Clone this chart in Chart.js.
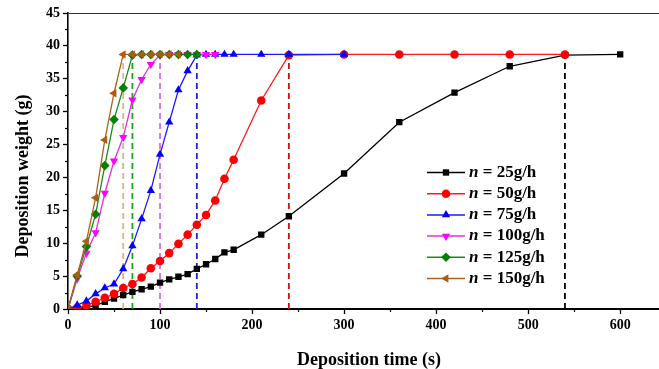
<!DOCTYPE html>
<html><head><meta charset="utf-8">
<script src="https://cdn.jsdelivr.net/npm/chart.js@4"></script>
<style>html,body{margin:0;padding:0;background:#fff}#wrap{width:659px;height:369px;position:relative}</style>
</head><body><div id="wrap"><canvas id="c"></canvas></div>
<script>
// ---- data ----
const seriesRates = ['25g/h', '50g/h', '75g/h', '100g/h', '125g/h', '150g/h'];

const time25   = [0,10,20,30,40,50,60,70,80,90,100,110,120,130,140,150,160,170,180,210,240,300,360,420,480,540,600];
const weight25 = [0,0.1,0.3,0.5,1.1,1.6,2.1,2.6,3.0,3.4,4.0,4.5,4.9,5.3,6.1,6.8,7.6,8.6,9.0,11.3,14.1,20.6,28.4,32.9,36.9,38.6,38.7];

const time50   = [0,10,20,30,40,50,60,70,80,90,100,110,120,130,140,150,160,170,180,210,240,300,360,420,480,540];
const weight50 = [0,0.2,0.5,1.1,1.7,2.3,3.2,3.8,4.8,6.2,7.3,8.5,9.9,11.3,12.8,14.3,16.5,19.8,22.7,31.7,38.6,38.7,38.7,38.7,38.7,38.7];

const time75   = [0,10,20,30,40,50,60,70,80,90,100,110,120,130,140,150,160,170,180,210,240,300];
const weight75 = [0,0.6,1.2,2.3,3.2,3.8,6.1,9.6,13.7,18.0,23.5,28.4,33.3,36.2,38.6,38.7,38.7,38.7,38.7,38.7,38.7,38.7];

const time100   = [0,10,20,30,40,50,60,70,80,90,100,110,120,130,140,150,160];
const weight100 = [0,4.6,8.5,11.6,17.6,22.5,26.1,31.8,34.9,37.2,38.6,38.7,38.7,38.7,38.7,38.7,38.7];

const time125   = [0,10,20,30,40,50,60,70,80,90,100,110,120,130,140];
const weight125 = [0,5.0,9.5,14.4,21.8,28.8,33.6,38.6,38.7,38.7,38.7,38.7,38.7,38.7,38.7];

const time150   = [0,10,20,30,40,50,60,70,80,90,100,110,120];
const weight150 = [0,5.2,10.3,16.9,25.7,32.8,38.7,38.7,38.7,38.7,38.7,38.7,38.7];

// time at which each series reaches its plateau (dashed markers)
const plateauTimes = [540, 240, 140, 100, 70, 60];

const xTicks = [0,100,200,300,400,500,600];
const yTicks = [0,5,10,15,20,25,30,35,40,45];

// ---- styles ----
const times   = [time25, time50, time75, time100, time125, time150];
const weights = [weight25, weight50, weight75, weight100, weight125, weight150];
const lineColors  = ['#000000', '#ff1a1a', '#1a1aff', '#e030e0', '#1e8a1e', '#b0601a'];
const pointColors = ['#000000', '#ff0000', '#0000ff', '#ff00ff', '#008000', '#b05a14'];
const dashColors  = ['#000000', '#d01010', '#2020d0', '#d070e0', '#20a020', '#d8b488'];
const pointStyles = ['rect', 'circle', 'triangle', 'triangle', 'rectRot', 'triangle'];
const rotations   = [0, 0, 0, 180, 0, -90];
const radii       = [4.5, 4.3, 4.8, 4.8, 4.8, 4.8];

const datasets = [];
seriesRates.forEach((r, i) => {
  datasets.push({
    label: 'n = ' + r,
    data: times[i].map((t, k) => ({x: t, y: weights[i][k]})),
    borderColor: lineColors[i],
    backgroundColor: pointColors[i],
    pointBackgroundColor: pointColors[i],
    pointBorderColor: pointColors[i],
    pointBorderWidth: 0,
    pointStyle: pointStyles[i],
    rotation: rotations[i],
    pointRadius: radii[i],
    borderWidth: 1.3,
    tension: 0,
    order: 6 - i
  });
});
seriesRates.forEach((r, i) => {
  const t = plateauTimes[i];
  const w = weights[i][times[i].indexOf(t)];
  datasets.push({
    label: 'drop' + i,
    data: [{x: t, y: 0}, {x: t, y: w}],
    borderColor: dashColors[i],
    borderDash: [6, 4],
    borderWidth: 1.8,
    pointRadius: 0,
    order: 20
  });
});

const SERIF = '"Liberation Serif", "Times New Roman", serif';

const decor = {
  id: 'decor',
  afterDraw(chart) {
    const ctx = chart.ctx, ca = chart.chartArea;
    const xs = chart.scales.x, ys = chart.scales.y;
    ctx.save();
    // top frame line
    ctx.strokeStyle = '#333';
    ctx.lineWidth = 1.2;
    ctx.beginPath(); ctx.moveTo(ca.left, ca.top + 0.5); ctx.lineTo(chart.width, ca.top + 0.5); ctx.stroke();
    // minor ticks
    ctx.strokeStyle = '#000';
    ctx.lineWidth = 1.2;
    for (let v = 2.5; v < 45; v += 5) {
      const p = Math.round(ys.getPixelForValue(v)) + 0.5;
      ctx.beginPath(); ctx.moveTo(ca.left - 3, p); ctx.lineTo(ca.left, p); ctx.stroke();
    }
    for (let v = 50; v <= xs.max; v += 100) {
      const p = Math.round(xs.getPixelForValue(v)) + 0.5;
      ctx.beginPath(); ctx.moveTo(p, ca.bottom); ctx.lineTo(p, ca.bottom + 3); ctx.stroke();
    }
    // extend x axis line to the edge
    ctx.lineWidth = 2;
    ctx.beginPath(); ctx.moveTo(ca.right, ca.bottom); ctx.lineTo(chart.width, ca.bottom); ctx.stroke();
    // axis titles
    ctx.fillStyle = '#000';
    ctx.font = 'bold 18px ' + SERIF;
    ctx.textAlign = 'center';
    ctx.textBaseline = 'middle';
    ctx.fillText('Deposition time (s)', 369, 360);
    ctx.save();
    ctx.translate(23, 176);
    ctx.rotate(-Math.PI / 2);
    ctx.fillText('Deposition weight (g)', 0, 0);
    ctx.restore();

    // legend
    const x0 = 427, x1 = 465, tx = 469, y0 = 172.5, dy = 21.2;
    seriesRates.forEach((r, i) => {
      const y = y0 + i * dy;
      ctx.strokeStyle = lineColors[i];
      ctx.lineWidth = 1.5;
      ctx.setLineDash([]);
      ctx.beginPath(); ctx.moveTo(x0, y); ctx.lineTo(x1, y); ctx.stroke();
      ctx.fillStyle = pointColors[i];
      if (Chart.helpers && Chart.helpers.drawPoint) {
        Chart.helpers.drawPoint(ctx, {pointStyle: pointStyles[i], rotation: rotations[i], radius: radii[i], borderWidth: 0}, (x0 + x1) / 2, y);
      } else {
        ctx.beginPath(); ctx.arc((x0 + x1) / 2, y, 4, 0, Math.PI * 2); ctx.fill();
      }
      ctx.fillStyle = '#000';
      ctx.textAlign = 'left';
      ctx.textBaseline = 'middle';
      ctx.font = 'italic bold 17px ' + SERIF;
      ctx.fillText('n', tx, y);
      const w = ctx.measureText('n').width;
      ctx.font = 'bold 17px ' + SERIF;
      ctx.fillText(' = ' + r, tx + w, y);
    });
    ctx.restore();
  }
};

new Chart(document.getElementById('c'), {
  type: 'line',
  data: {datasets},
  options: {
    responsive: true,
    maintainAspectRatio: false,
    animation: false,
    layout: {padding: {top: 13, right: 0, left: 0, bottom: 0}},
    plugins: {legend: {display: false}, tooltip: {enabled: false}, title: {display: false}},
    scales: {
      x: {
        type: 'linear',
        min: 0, max: 637,
        afterFit(s) { s.height = 60; },
        afterBuildTicks(s) { s.ticks = xTicks.map(v => ({value: v})); },
        ticks: {
          includeBounds: false,
          color: '#000',
          padding: 3,
          maxRotation: 0,
          font: {family: SERIF, size: 14, weight: 'bold'}
        },
        grid: {drawOnChartArea: false, drawTicks: true, tickLength: 5, tickColor: '#000', tickWidth: 1.3},
        border: {display: true, color: '#000', width: 2}
      },
      y: {
        type: 'linear',
        min: 0, max: 45,
        afterFit(s) { s.width = 68; },
        afterBuildTicks(s) { s.ticks = yTicks.map(v => ({value: v})); },
        ticks: {
          color: '#000',
          padding: 3,
          font: {family: SERIF, size: 14, weight: 'bold'}
        },
        grid: {drawOnChartArea: false, drawTicks: true, tickLength: 5, tickColor: '#000', tickWidth: 1.3},
        border: {display: true, color: '#000', width: 1.6}
      }
    }
  },
  plugins: [decor]
});
</script>
</body></html>
